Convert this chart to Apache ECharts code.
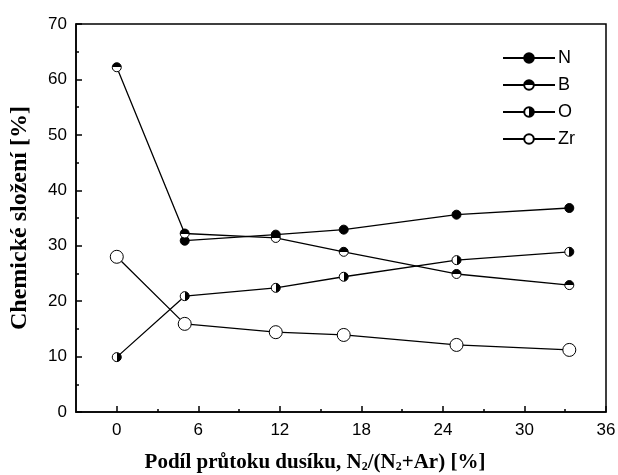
<!DOCTYPE html>
<html>
<head>
<meta charset="utf-8">
<script src="https://cdn.jsdelivr.net/npm/echarts@6/dist/echarts.min.js"></script>
<style>html,body{margin:0;padding:0;background:#fff}#c{width:618px;height:475px}</style>
</head>
<body>
<div id="c"></div>
<script>
const xValues = [0, 5, 11.7, 16.7, 25, 33.3];
const seriesNames = ['N', 'B', 'O', 'Zr'];
const nValues = [null, 30.9, 32.0, 32.9, 35.6, 36.8];
const bValues = [62.2, 32.2, 31.4, 28.9, 24.9, 22.9];
const oValues = [9.9, 20.9, 22.4, 24.4, 27.4, 28.9];
const zrValues = [28.0, 15.9, 14.4, 13.9, 12.1, 11.2];
const xMajorTicks = [0, 6, 12, 18, 24, 30, 36];
const xMinorTicks = [3, 9, 15, 21, 27, 33];

function pairs(vals) {
  const out = [];
  vals.forEach((v, i) => { if (v !== null) out.push([xValues[i], v]); });
  return out;
}
function split(dir) {
  const g = dir === 'v' ? {x: 0, y: 0, x2: 0, y2: 1} : {x: 0, y: 0, x2: 1, y2: 0};
  const first = dir === 'v' ? '#000' : '#fff';
  const second = dir === 'v' ? '#fff' : '#000';
  return Object.assign({type: 'linear', colorStops: [
    {offset: 0, color: first}, {offset: 0.5, color: first},
    {offset: 0.5, color: second}, {offset: 1, color: second}]}, g);
}
const fills = ['#000', split('v'), split('h'), '#fff'];
const sizes = [9, 9, 9, 13];
const dataSets = [nValues, bValues, oValues, zrValues];

const chart = echarts.init(document.getElementById('c'), null, {renderer: 'canvas'});
const font = 'Liberation Sans, Arial, sans-serif';
const serif = 'Liberation Serif, Times New Roman, serif';
chart.setOption({
  animation: false,
  backgroundColor: '#fff',
  grid: {left: 76, top: 24, right: 12, bottom: 63, outerBoundsMode: 'none', containLabel: false,
    show: true, borderColor: '#000', borderWidth: 1.5, backgroundColor: 'transparent'},
  legend: {
    data: seriesNames,
    orient: 'vertical',
    right: 38, top: 44,
    itemWidth: 52, itemHeight: 12, itemGap: 9,
    textStyle: {fontFamily: font, fontSize: 18, color: '#000', padding: [0, 0, 0, -2]},
    inactiveColor: '#000'
  },
  xAxis: [{
    type: 'value', min: -3, max: 36,
    axisLine: {show: true, onZero: false, lineStyle: {color: '#000', width: 1.5}},
    axisTick: {show: true, inside: true, length: 6, customValues: xMajorTicks, lineStyle: {color: '#000', width: 1.5}},
    axisLabel: {customValues: xMajorTicks, fontFamily: font, fontSize: 17, color: '#000', margin: 10},
    splitLine: {show: false},
    name: 'Podíl průtoku dusíku, N{s|2}/(N{s|2}+Ar) [%]',
    nameLocation: 'middle', nameGap: 40,
    nameTextStyle: {fontFamily: serif, fontWeight: 'bold', fontSize: 21, color: '#000', padding: [0, 52, 0, 0],
      rich: {s: {fontFamily: serif, fontWeight: 'bold', fontSize: 12, verticalAlign: 'bottom', padding: [9, 0, 0, 0]}}}
  }, {
    type: 'value', min: -3, max: 36, position: 'bottom',
    axisLine: {show: false, onZero: false},
    axisTick: {show: true, inside: true, length: 3, customValues: xMinorTicks, lineStyle: {color: '#000', width: 1.5}},
    axisLabel: {show: false},
    splitLine: {show: false}
  }],
  yAxis: {
    type: 'value', min: 0, max: 70, interval: 10,
    axisLine: {show: true, onZero: false, lineStyle: {color: '#000', width: 1.5}},
    axisTick: {show: true, inside: true, length: 6, lineStyle: {color: '#000', width: 1.5}},
    minorTick: {show: true, splitNumber: 2, length: 3, lineStyle: {color: '#000', width: 1.5}},
    axisLabel: {fontFamily: font, fontSize: 17, color: '#000', margin: 9},
    splitLine: {show: false},
    name: 'Chemické složení [%]',
    nameLocation: 'middle', nameGap: 44,
    nameTextStyle: {fontFamily: serif, fontWeight: 'bold', fontSize: 24, color: '#000'}
  },
  series: seriesNames.map((name, i) => ({
    name: name,
    type: 'line',
    xAxisIndex: 0,
    data: pairs(dataSets[i]),
    symbol: 'circle',
    symbolSize: sizes[i],
    lineStyle: {color: '#000', width: 1.3},
    itemStyle: {color: fills[i], borderColor: '#000', borderWidth: 1},
    z: 3
  }))
});
</script>
</body>
</html>
